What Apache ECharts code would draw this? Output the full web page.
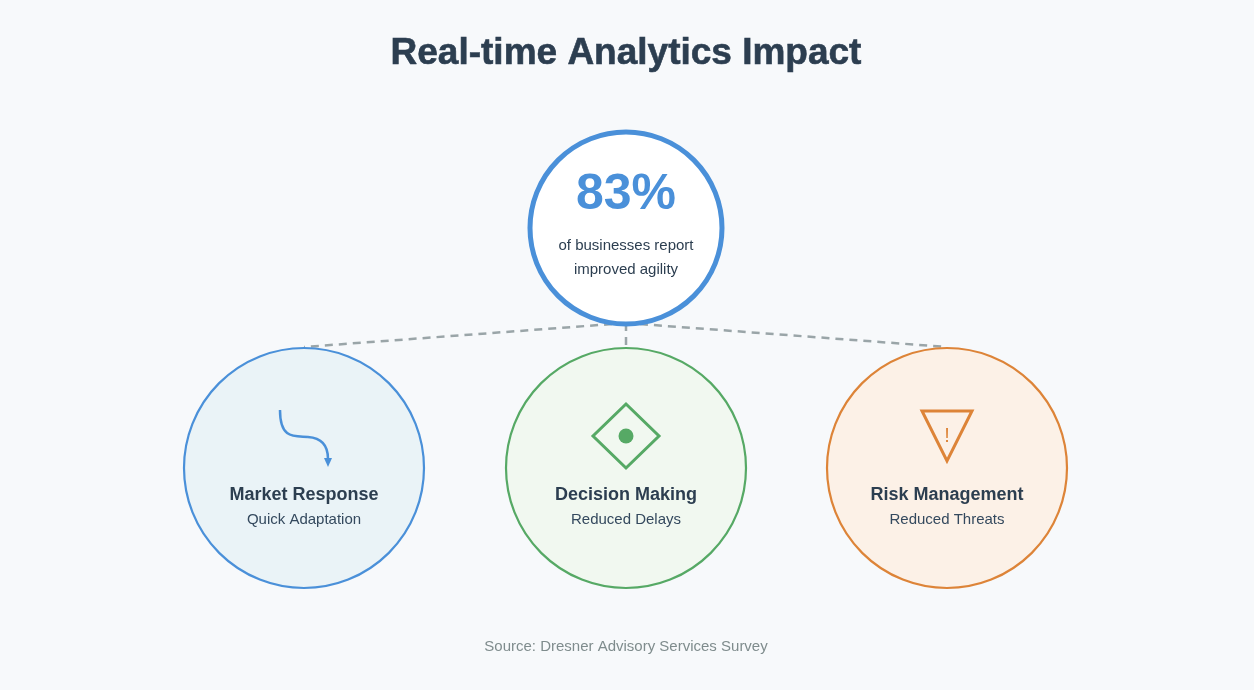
<!DOCTYPE html><html><head><meta charset="utf-8"><script src="https://cdn.jsdelivr.net/npm/echarts@6/dist/echarts.min.js"></script>
<style>html,body{margin:0;background:#f7f9fb}#c{width:1254px;height:690px}</style></head><body><div id="c"></div><script>
const title='Real-time Analytics Impact';
const headline='83%';
const headlineText=['of businesses report','improved agility'];
const categories=['Market Response','Decision Making','Risk Management'];
const subtitles=['Quick Adaptation','Reduced Delays','Reduced Threats'];
const source='Source: Dresner Advisory Services Survey';
const colors=['#4a90d9','#56a965','#dd8438'];
const fills=['#eaf3f7','#f1f8f0','#fcf1e7'];
const cx=[304,626,947];
const F='Helvetica, Arial, "Liberation Sans", sans-serif';
const g=[];
g.push({type:'text',x:626,y:54,style:{text:title,font:'bold 37px '+F,fill:'#2c3e50',align:'center',verticalAlign:'middle',stroke:'#2c3e50',lineWidth:0.6}});
cx.forEach((x,i)=>{g.push({type:'line',shape:{x1:626,y1:323,x2:x,y2:347},style:{stroke:'#9aa5a8',lineWidth:2.5,lineDash:[8,6]}});});
cx.forEach((x,i)=>{
 g.push({type:'circle',shape:{cx:x,cy:468,r:120},style:{fill:fills[i],stroke:colors[i],lineWidth:2.2}});
 g.push({type:'text',x:x,y:495,style:{text:categories[i],font:'bold 18px '+F,fill:'#2c3e50',align:'center',verticalAlign:'middle'}});
 g.push({type:'text',x:x,y:520,style:{text:subtitles[i],font:'15px '+F,fill:'#34495e',align:'center',verticalAlign:'middle'}});
});
g.push({type:'circle',shape:{cx:626,cy:228,r:96},style:{fill:'#fff',stroke:colors[0],lineWidth:5}});
g.push({type:'text',x:626,y:195,style:{text:headline,font:'bold 50px '+F,fill:colors[0],align:'center',verticalAlign:'middle'}});
headlineText.forEach((t,i)=>g.push({type:'text',x:626,y:246+i*24,style:{text:t,font:'15px '+F,fill:'#2c3e50',align:'center',verticalAlign:'middle'}}));
g.push({type:'bezierCurve',shape:{x1:280,y1:410,cpx1:280,cpy1:440,cpx2:295,cpy2:436,x2:308,y2:437},style:{fill:null,stroke:colors[0],lineWidth:2.5}});
g.push({type:'bezierCurve',shape:{x1:308,y1:437,cpx1:324,cpy1:438,cpx2:328,cpy2:448,x2:328,y2:459},style:{fill:null,stroke:colors[0],lineWidth:2.5}});
g.push({type:'polygon',shape:{points:[[324,458],[332,458],[328,467]]},style:{fill:colors[0]}});
g.push({type:'polygon',shape:{points:[[626,404],[659,436],[626,468],[593,436]]},style:{fill:null,stroke:colors[1],lineWidth:3}});
g.push({type:'circle',shape:{cx:626,cy:436,r:7.5},style:{fill:colors[1]}});
g.push({type:'polygon',shape:{points:[[922,411],[972,411],[947,461]]},style:{fill:null,stroke:colors[2],lineWidth:3}});
g.push({type:'text',x:947,y:436,style:{text:'!',font:'20px '+F,fill:colors[2],align:'center',verticalAlign:'middle'}});
g.push({type:'text',x:626,y:647,style:{text:source,font:'15px '+F,fill:'#7f8c8d',align:'center',verticalAlign:'middle'}});
echarts.init(document.getElementById('c')).setOption({backgroundColor:'#f7f9fb',graphic:g});
</script></body></html>
